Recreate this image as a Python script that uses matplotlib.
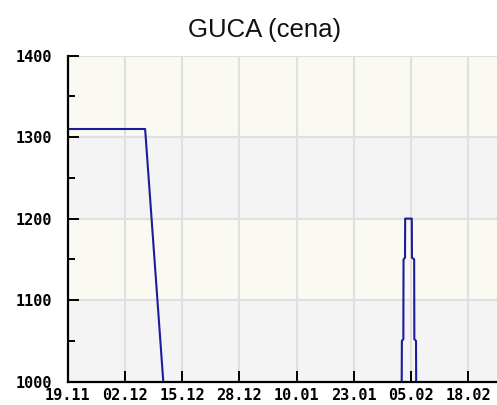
"""
GUCA - cena, dnevni grafikon
"""
import matplotlib
matplotlib.use('Agg')
import matplotlib.pyplot as plt
import matplotlib.dates as mdates
from matplotlib.ticker import MultipleLocator, FixedLocator
from matplotlib.font_manager import FontProperties
import numpy as np
import pandas as pd

# cena (ispod 1000 linija nije vidljiva -> prekid)
dates = pd.to_datetime([
    '2012-11-19 11:00', '2012-12-06 14:00', '2012-12-10 17:00', None,
    '2013-02-02 22:00', '2013-02-02 23:00', '2013-02-03 07:00', '2013-02-03 08:00',
    '2013-02-03 16:00', '2013-02-03 17:00', '2013-02-05 05:00', '2013-02-05 06:00',
    '2013-02-05 18:00', '2013-02-05 19:00', '2013-02-06 04:00', '2013-02-06 05:00',
])
prices = [1310, 1310, 1000, np.nan,
          1000, 1050, 1052, 1150, 1152, 1200, 1200, 1152, 1150, 1052, 1050, 1000]

tick_dates = pd.date_range('2012-11-19', periods=8, freq='13D')
x_start = pd.Timestamp('2012-11-19')
x_end = pd.Timestamp('2013-02-24 14:00')
y_min, y_max = 1000, 1400
band_colors = ['#f4f4f4', '#fafaf2']

fig = plt.figure(figsize=(4.97, 4.05), dpi=100)
ax = fig.add_axes([0.1364, 0.058, 1 - 0.1364, 0.8045])

# pozadinske trake po 100
for i, lo in enumerate(range(y_min, y_max, 100)):
    ax.axhspan(lo, lo + 100, facecolor=band_colors[i % 2], edgecolor='none', zorder=0)

ax.plot(dates, prices, color='#1c1c9c', linewidth=1.5, zorder=3)

ax.set_xlim(x_start, x_end)
ax.set_ylim(y_min, y_max)

ax.xaxis.set_major_locator(FixedLocator(mdates.date2num(tick_dates)))
ax.xaxis.set_major_formatter(mdates.DateFormatter('%d.%m'))
ax.yaxis.set_major_locator(MultipleLocator(100))
ax.yaxis.set_minor_locator(MultipleLocator(50))

ax.grid(True, which='major', color='#e0e0e0', linewidth=1.5, zorder=1)
ax.set_axisbelow(True)

for side in ['top', 'right']:
    ax.spines[side].set_visible(False)
for side in ['left', 'bottom']:
    ax.spines[side].set_linewidth(1.6)
    ax.spines[side].set_zorder(4)

ax.tick_params(axis='both', which='major', direction='in', length=8, width=1.4, color='black')
ax.tick_params(axis='y', which='minor', direction='in', length=5, width=1.4)
ax.tick_params(axis='y', which='major', pad=11)
ax.tick_params(axis='x', which='major', pad=5)
tick_font = FontProperties(family='DejaVu Sans Mono', weight='bold', size=11)
for lbl in ax.get_xticklabels() + ax.get_yticklabels():
    lbl.set_fontproperties(tick_font)

fig.text(0.533, 0.9086, 'GUCA (cena)', ha='center', va='baseline',
         fontsize=18.5, family='Liberation Sans', color='#111111')

plt.savefig('out.png', dpi=100)
plt.close()
